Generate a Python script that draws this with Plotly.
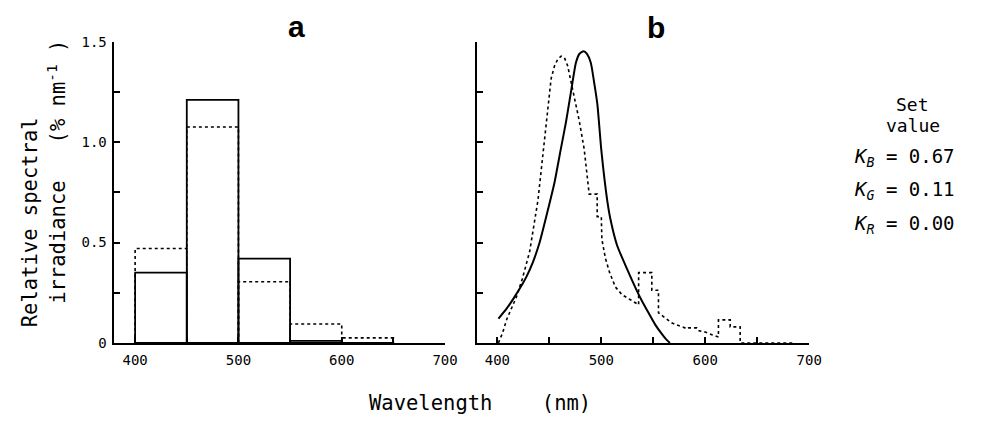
import plotly.graph_objects as go

# ---------------- data ----------------
bin_edges = [400, 450, 500, 550, 600, 650]
bars_solid = [0.35, 1.21, 0.42, 0.01, 0.0]
bars_dotted = [0.47, 1.075, 0.305, 0.094, 0.025]

curve_solid_x = [401, 409, 415.6, 424.8, 428, 434, 440.6, 449.3, 455, 461, 466, 470.8, 475.6,
                 479, 483, 486, 489.8, 493, 496.2, 500, 505.7, 508.9, 515.2, 523, 528,
                 534, 540, 545.4, 552, 558, 562, 566]
curve_solid_y = [0.121, 0.172, 0.222, 0.30, 0.33, 0.40, 0.50, 0.677, 0.80, 0.965, 1.10, 1.25, 1.396,
                 1.44, 1.452, 1.44, 1.396, 1.30, 1.188, 0.96, 0.709, 0.613, 0.485, 0.389, 0.33,
                 0.262, 0.20, 0.15, 0.09, 0.046, 0.02, 0.0]

curve_dotted_x = [401, 405, 409, 418.4, 424, 431, 439, 445.4, 451.7, 455, 458, 461.3, 464.5, 467.6,
                  472.4, 478.7, 483.5, 488.3, 496, 496, 500, 500.5, 504, 508, 513.6, 520, 528,
                  535.9, 535.9, 548.6, 548.6, 555, 555, 562, 567.6, 575, 583, 584, 592, 594,
                  600, 607, 612.7, 612.7, 624, 624, 633.6, 633.6, 685]
curve_dotted_y = [0.0, 0.05, 0.118, 0.23, 0.32, 0.454, 0.709, 1.029, 1.316, 1.38, 1.412, 1.428, 1.42, 1.38,
                  1.268, 1.108, 0.965, 0.741, 0.741, 0.629, 0.629, 0.517, 0.42, 0.35, 0.278, 0.24, 0.215,
                  0.19, 0.35, 0.35, 0.262, 0.262, 0.15, 0.12, 0.10, 0.085, 0.07, 0.075, 0.075, 0.06,
                  0.054, 0.04, 0.03, 0.115, 0.115, 0.08, 0.08, 0.0, 0.0]

x_tick_vals = [400, 450, 500, 550, 600, 650, 700]
x_tick_text = ["400", "", "500", "", "600", "", "700"]
y_tick_vals = [0, 0.25, 0.5, 0.75, 1.0, 1.25, 1.5]
y_tick_text = ["0", "", "0.5", "", "1.0", "", "1.5"]

set_values = [("B", "0.67"), ("G", "0.11"), ("R", "0.00")]

# ---------------- figure ----------------
W, H = 984, 426
MONO = "DejaVu Sans Mono"


def px_x(p):
    return p / W


def px_y(p):
    return 1 - p / H


fig = go.Figure()

centers = [(bin_edges[i] + bin_edges[i + 1]) / 2 for i in range(len(bars_solid))]
widths = [bin_edges[i + 1] - bin_edges[i] for i in range(len(bars_solid))]

fig.add_trace(go.Bar(x=centers, y=bars_solid, width=widths,
                     marker=dict(color="rgba(0,0,0,0)", line=dict(color="black", width=1.8)),
                     xaxis="x", yaxis="y", showlegend=False, hoverinfo="skip"))

# dotted bar outlines
dx, dy = [], []
for i, v in enumerate(bars_dotted):
    l, r = bin_edges[i], bin_edges[i + 1]
    dx += [l, l, r, r, None]
    dy += [0, v, v, 0, None]
fig.add_trace(go.Scatter(x=dx, y=dy, mode="lines", line=dict(color="black", width=1.6, dash="dot"),
                         xaxis="x", yaxis="y", showlegend=False, hoverinfo="skip"))

fig.add_trace(go.Scatter(x=curve_dotted_x, y=curve_dotted_y, mode="lines",
                         line=dict(color="black", width=1.6, dash="dot"),
                         xaxis="x2", yaxis="y2", showlegend=False, hoverinfo="skip"))
fig.add_trace(go.Scatter(x=curve_solid_x, y=curve_solid_y, mode="lines",
                         line=dict(color="black", width=2, shape="spline", smoothing=0.6),
                         xaxis="x2", yaxis="y2", showlegend=False, hoverinfo="skip"))

xdom_a = [px_x(116), px_x(451)]
xdom_b = [px_x(483), px_x(820)]
ydom = [px_y(348), px_y(35)]

common_x = dict(range=[380, 700], showline=True, linecolor="black", linewidth=1.8,
                ticks="inside", ticklen=6, tickwidth=1.5, tickcolor="black",
                tickvals=x_tick_vals, ticktext=x_tick_text, showgrid=False, zeroline=False,
                tickfont=dict(family=MONO, size=14, color="black"), ticklabelstandoff=3,
                fixedrange=True)
common_y = dict(range=[0, 1.5], showline=True, linecolor="black", linewidth=1.8,
                ticks="inside", ticklen=6, tickwidth=1.5, tickcolor="black",
                tickvals=y_tick_vals, showgrid=False, zeroline=False,
                tickfont=dict(family=MONO, size=14, color="black"), ticklabelstandoff=3,
                domain=ydom, fixedrange=True)

fig.update_layout(
    width=W, height=H, margin=dict(l=0, r=0, t=0, b=0),
    paper_bgcolor="white", plot_bgcolor="white",
    xaxis=dict(common_x, domain=xdom_a, anchor="y"),
    yaxis=dict(common_y, ticktext=y_tick_text, anchor="x"),
    xaxis2=dict(common_x, domain=xdom_b, anchor="y2"),
    yaxis2=dict(common_y, ticktext=[""] * len(y_tick_vals), anchor="x2"),
    barmode="overlay",
)

ann = []
ann.append(dict(text="<b>a</b>", x=px_x(300), y=px_y(19), font=dict(family="Liberation Sans", size=30, color="black")))
ann.append(dict(text="<b>b</b>", x=px_x(665), y=px_y(20), font=dict(family="Liberation Sans", size=30, color="black")))
ann.append(dict(text="Relative spectral", x=px_x(30), y=px_y(223), textangle=-90,
                font=dict(family=MONO, size=20.5, color="black")))
ann.append(dict(text="irradiance   (% nm<sup>-1</sup> )", x=px_x(58), y=px_y(170), textangle=-90,
                font=dict(family=MONO, size=20.5, color="black")))
ann.append(dict(text="Wavelength    (nm)", x=px_x(486), y=px_y(410),
                font=dict(family=MONO, size=20.5, color="black")))
ann.append(dict(text="Set", x=px_x(925), y=px_y(100), font=dict(family=MONO, size=18, color="black")))
ann.append(dict(text="value", x=px_x(925), y=px_y(122), font=dict(family=MONO, size=18, color="black")))
for i, (sub, val) in enumerate(set_values):
    ann.append(dict(text=f"<i>K</i><sub><i>{sub}</i></sub> = {val}", x=px_x(863), y=px_y(155 + 35 * i),
                    xanchor="left", font=dict(family=MONO, size=19, color="black")))

for a in ann:
    a.setdefault("xanchor", "center")
    a.update(xref="paper", yref="paper", yanchor="middle", showarrow=False)
fig.update_layout(annotations=ann)

fig.write_html("out.html", config={"displayModeBar": False},
               post_script="document.body.style.margin='0px';")
